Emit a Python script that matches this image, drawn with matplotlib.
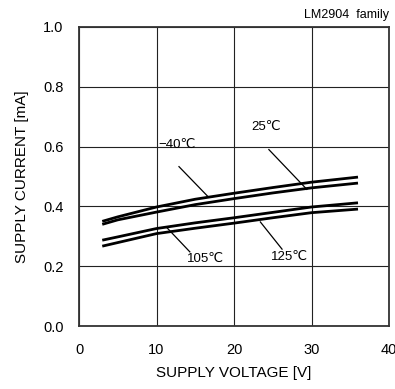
import matplotlib
matplotlib.use('Agg')
import matplotlib.pyplot as plt

plt.rcParams['font.family'] = ['Liberation Sans', 'DejaVu Sans']

V = [3, 5, 10, 15, 20, 25, 30, 36]
I_m40 = [0.350, 0.365, 0.398, 0.424, 0.444, 0.463, 0.481, 0.498]
I_25 = [0.340, 0.355, 0.381, 0.406, 0.426, 0.445, 0.462, 0.478]
I_105 = [0.287, 0.298, 0.326, 0.345, 0.362, 0.380, 0.398, 0.412]
I_125 = [0.267, 0.279, 0.309, 0.327, 0.344, 0.362, 0.379, 0.391]

labels = ['\u221240\u2103', '25\u2103', '105\u2103', '125\u2103']
label_pos = [(12.7, 0.607), (24.2, 0.667), (16.3, 0.223), (27.1, 0.231)]
leaders = [((12.9, 0.533), (16.6, 0.434)),
           ((24.5, 0.590), (29.4, 0.457)),
           ((11.3, 0.330), (14.3, 0.248)),
           ((23.4, 0.348), (26.2, 0.257))]

fig = plt.figure(figsize=(3.95, 3.89), dpi=100)
ax = fig.add_axes([79 / 395, 1 - 326 / 389, 310 / 395, 299 / 389])

for I in [I_m40, I_25, I_105, I_125]:
    ax.plot(V, I, color='black', lw=2.0, solid_capstyle='butt')

for (p0, p1) in leaders:
    ax.plot([p0[0], p1[0]], [p0[1], p1[1]], color='black', lw=0.9)

for txt, (x, y) in zip(labels, label_pos):
    ax.text(x, y, txt, ha='center', va='center', fontsize=9.5)

ax.set_xlim(0, 40)
ax.set_ylim(0, 1.0)
ax.set_xticks([0, 10, 20, 30, 40])
ax.set_yticks([0.0, 0.2, 0.4, 0.6, 0.8, 1.0])
ax.set_yticklabels(['0.0', '0.2', '0.4', '0.6', '0.8', '1.0'])
ax.tick_params(length=0, labelsize=10.5)
ax.tick_params(axis='x', pad=12)
ax.tick_params(axis='y', pad=11)
ax.grid(True, color='#222222', lw=0.8)
for s in ax.spines.values():
    s.set_color('#333333')
    s.set_linewidth(1.3)

ax.set_xlabel('SUPPLY VOLTAGE [V]', fontsize=11, labelpad=6.5)
ax.set_ylabel('SUPPLY CURRENT [mA]', fontsize=11, labelpad=10)
fig.text(389 / 395, 1 - 15 / 389, 'LM2904  family', ha='right', va='center', fontsize=9)

fig.savefig('out.png', dpi=100)
